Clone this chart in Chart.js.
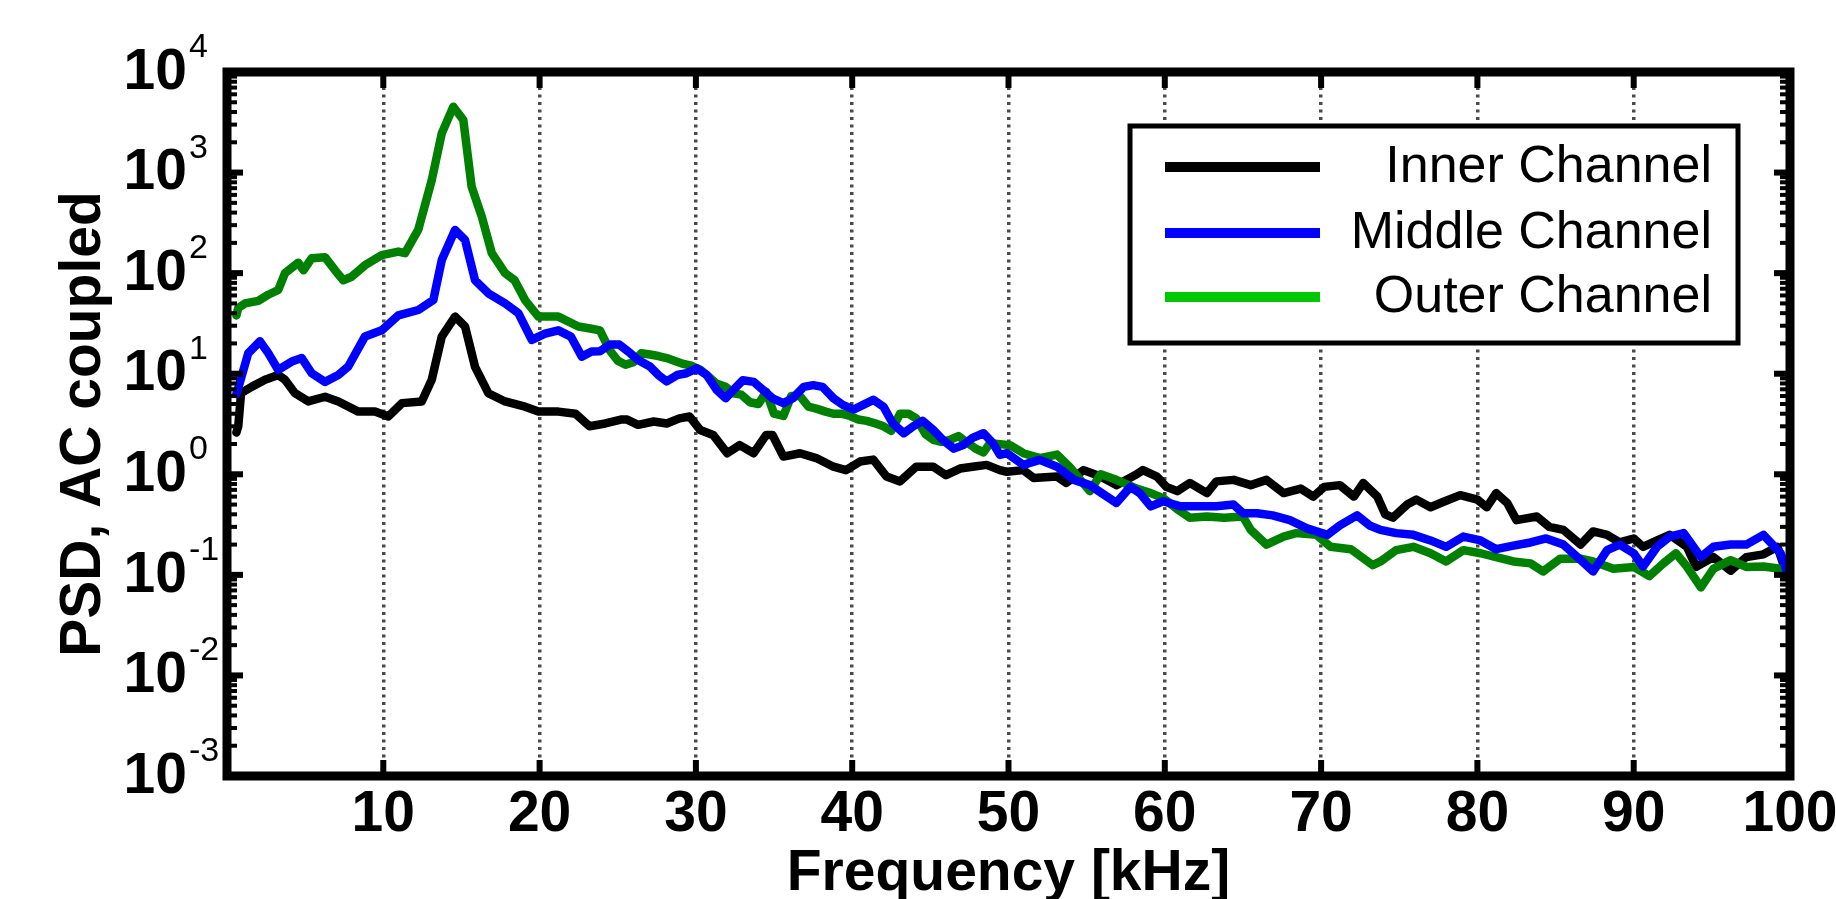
<!DOCTYPE html>
<html><head><meta charset="utf-8">
<script src="https://cdn.jsdelivr.net/npm/chart.js@4.4.1/dist/chart.umd.min.js"></script>
<style>html,body{margin:0;padding:0;background:#fff;overflow:hidden}canvas{display:block}</style>
</head><body>
<canvas id="c" width="1836" height="899"></canvas>
<script>
// ---------------- data ----------------
const seriesNames = ['Inner Channel', 'Middle Channel', 'Outer Channel'];

const innerFreq = [0.6,0.72,0.9,1.57,2.43,3.28,3.71,4.35,5.2,6.27,7.12,8.4,9.47,10.32,11.2,12.46,13.1,13.74,14.59,15.23,15.87,16.72,17.79,19.07,19.92,21.2,22.3,23.2,24.2,25.2,25.6,26.3,27.3,28.13,28.95,29.6,30.27,31.1,32.0,32.8,33.7,34.5,34.9,35.6,36.66,37.7,38.8,39.6,40.5,41.35,42.2,43.06,44.1,45.19,46.0,46.9,47.7,48.6,49.45,49.9,50.95,51.6,53.1,53.7,54.8,55.9,56.9,58.2,58.6,59.5,60.1,60.8,61.6,62.7,63.3,64.4,65.5,66.5,67.6,68.7,69.5,70.2,71.2,72.1,72.7,73.6,74.1,74.6,75.5,76.1,77.0,77.8,78.9,80.0,80.6,81.2,81.9,82.5,83.8,84.6,85.5,86.6,87.4,88.3,89.1,90.0,90.6,91.5,92.3,93.4,94.0,95.1,96.2,97.2,98.3,99.2,99.8];
const innerPSD  = [2.6,3.0,6.4,7.4,8.7,9.7,8.7,6.4,5.3,5.9,5.3,4.2,4.2,3.75,5.1,5.3,8.7,23.4,37,29.5,11.7,6.4,5.3,4.7,4.2,4.2,4.0,3.0,3.2,3.5,3.5,3.1,3.35,3.2,3.6,3.75,2.76,2.46,1.62,1.95,1.62,2.46,2.46,1.5,1.62,1.45,1.19,1.1,1.34,1.4,0.95,0.85,1.19,1.19,0.98,1.14,1.19,1.24,1.1,1.06,1.1,0.92,0.95,0.82,1.1,0.95,0.78,1.0,1.1,0.95,0.75,0.68,0.82,0.65,0.85,0.88,0.78,0.88,0.65,0.72,0.6,0.75,0.78,0.6,0.82,0.6,0.4,0.37,0.5,0.56,0.47,0.53,0.62,0.56,0.47,0.65,0.52,0.35,0.38,0.30,0.28,0.2,0.27,0.25,0.21,0.23,0.19,0.22,0.25,0.19,0.12,0.15,0.11,0.15,0.16,0.19,0.1];

const middleFreq = [0.6,0.72,1.36,2.11,2.64,3.28,4.14,4.78,5.42,6.27,7.12,7.76,8.83,9.9,10.96,12.24,13.2,13.74,14.59,15.23,15.87,16.72,17.79,18.64,19.5,20.35,21.2,22.0,22.7,23.33,23.86,24.5,25.1,25.8,26.3,27.06,27.6,28.13,28.8,29.4,30.05,30.7,31.33,31.9,32.4,33.0,33.7,34.3,34.9,35.6,36.2,36.9,37.5,38.1,38.8,39.4,40.1,40.7,41.35,42.0,42.6,43.3,43.9,44.5,45.19,45.8,46.5,47.1,47.7,48.4,49.0,49.45,49.9,50.95,52.0,53.1,54.2,55.2,56.3,56.9,57.8,58.4,59.1,59.9,61.0,62.0,63.3,64.4,65.0,65.9,66.9,68.0,69.1,70.4,71.2,72.3,73.1,73.8,74.8,75.9,77.0,78.0,79.1,80.2,81.2,82.3,83.4,84.4,85.5,86.6,87.4,88.3,89.1,90.0,90.6,91.5,92.3,93.2,94.3,95.1,96.2,97.2,98.3,99.4,99.9];
const middlePSD  = [6.3,7.2,16,21,16,10.9,13.2,14.3,10.1,8.3,9.7,11.8,23.5,27,38,43,54,135,269,214,85,63,50,40,21.7,25,27,23.4,14.8,16.6,16.7,19.5,19.5,16,13.7,11.8,9.7,8.4,9.7,10.1,11.3,9.7,6.9,5.7,6.9,8.6,8.3,6.9,5.7,5.1,5.7,7.4,7.7,7.4,5.7,4.9,4.4,4.9,5.5,4.7,3.2,2.56,3.0,3.4,2.76,2.2,1.8,1.95,2.3,2.56,2.04,1.56,1.62,1.24,1.39,1.19,0.88,0.78,0.6,0.52,0.75,0.65,0.48,0.54,0.48,0.48,0.48,0.5,0.41,0.41,0.39,0.35,0.29,0.25,0.31,0.39,0.31,0.28,0.26,0.25,0.22,0.19,0.24,0.22,0.18,0.195,0.21,0.23,0.2,0.141,0.108,0.176,0.2,0.164,0.121,0.19,0.24,0.26,0.15,0.19,0.2,0.2,0.25,0.164,0.097];

const outerFreq = [0.6,0.72,1.15,2.0,2.64,3.28,3.71,4.56,4.9,5.42,6.27,6.91,7.44,7.97,8.83,9.9,10.96,11.39,12.24,13.1,13.74,14.48,15.12,15.65,16.3,16.94,17.79,18.4,19.07,19.92,21.2,22.48,23.33,23.86,24.5,25.0,25.5,26.0,26.5,27.06,27.6,28.13,28.7,29.2,29.7,30.27,30.8,31.3,31.9,32.4,32.9,33.46,34.0,34.5,35.0,35.6,36.1,36.66,37.2,37.7,38.3,38.8,39.3,39.86,40.4,40.93,41.5,42.0,42.5,43.06,43.6,44.1,44.7,45.19,45.7,46.26,46.8,47.3,47.9,48.4,48.82,50.1,50.95,52.0,53.1,53.9,55.2,55.9,56.9,58.2,59.1,59.9,60.8,61.6,62.7,63.8,65.0,65.5,66.5,67.6,68.4,69.7,70.6,71.9,73.3,73.8,74.8,75.9,77.0,78.0,79.1,80.2,81.2,82.3,83.4,84.2,85.3,86.6,87.4,88.7,90.0,91.0,91.9,92.7,93.4,94.3,95.1,96.2,97.2,98.3,99.4,99.9];
const outerPSD  = [38,45,50,53,61,68,100,127,107,141,144,107,85,92,120,151,164,158,271,843,2450,4520,3330,725,365,158,100,85,54,37,37,29.5,28,27,17,13.5,12.3,13,16,15.5,15,14.3,13.3,12.5,12,11,9.4,8,7.4,6.4,6.2,5.2,5.0,6.6,4.0,3.8,6.0,6.0,4.7,4.5,4.2,4.0,4.0,3.8,3.5,3.4,3.2,3.0,2.7,4.0,4.0,3.6,2.5,2.2,2.1,2.2,2.4,2.1,1.8,1.65,2.04,1.95,1.62,1.45,1.57,1.19,0.68,1.0,0.88,0.72,0.65,0.58,0.45,0.37,0.38,0.37,0.38,0.28,0.2,0.24,0.26,0.25,0.19,0.18,0.125,0.136,0.176,0.19,0.164,0.136,0.176,0.164,0.15,0.136,0.13,0.108,0.145,0.145,0.136,0.115,0.12,0.097,0.13,0.164,0.121,0.075,0.115,0.14,0.12,0.121,0.115,0.11];

const xTickValues = [10,20,30,40,50,60,70,80,90,100];
const yExponents = [-3,-2,-1,0,1,2,3,4];
const xTitle = 'Frequency [kHz]';
const yTitle = 'PSD, AC coupled';

// ---------------- styling ----------------
const lineColors = ['#000000', '#0000ff', '#008000'];
const legendColors = ['#000000', '#0000ff', '#00c800'];
const FONT = '"Liberation Sans", Arial, Helvetica, sans-serif';

function pts(f, v) { return f.map((x, i) => ({x: x, y: v[i]})); }

const frameAndLegend = {
  id: 'frameAndLegend',
  afterDraw(chart) {
    const {ctx, chartArea: a, scales: {x, y}} = chart;
    ctx.save();
    ctx.fillStyle = '#000';
    // x ticks (bottom and top, inward)
    xTickValues.forEach(v => {
      if (v >= 100) return;
      const px = x.getPixelForValue(v);
      ctx.fillRect(px - 3, a.bottom - 16, 6, 16);
      ctx.fillRect(px - 3, a.top, 6, 16);
    });
    // y ticks (left and right, inward), major + minor
    yExponents.forEach(e => {
      const py = y.getPixelForValue(Math.pow(10, e));
      ctx.fillRect(a.left, py - 3, 16, 6);
      ctx.fillRect(a.right - 16, py - 3, 16, 6);
      if (e < 4) {
        for (let k = 2; k <= 9; k++) {
          const pm = y.getPixelForValue(k * Math.pow(10, e));
          ctx.fillRect(a.left, pm - 2, 10, 4);
          ctx.fillRect(a.right - 10, pm - 2, 10, 4);
        }
      }
    });
    // frame
    ctx.lineWidth = 9;
    ctx.strokeStyle = '#000';
    ctx.strokeRect(a.left, a.top, a.right - a.left, a.bottom - a.top);
    // y tick labels 10^n
    yExponents.forEach(e => {
      const py = y.getPixelForValue(Math.pow(10, e));
      ctx.font = 'bold 57px ' + FONT;
      ctx.textAlign = 'right';
      ctx.textBaseline = 'middle';
      ctx.fillText('10', 187, py + 1);
      ctx.font = '34px ' + FONT;
      ctx.textAlign = 'left';
      ctx.textBaseline = 'alphabetic';
      ctx.fillText(String(e), 189, py - 15);
    });
    // legend
    const bx = 1130, by = 126, bw = 608, bh = 217;
    ctx.fillStyle = '#fff';
    ctx.fillRect(bx, by, bw, bh);
    ctx.lineWidth = 5;
    ctx.strokeStyle = '#000';
    ctx.strokeRect(bx, by, bw, bh);
    const rows = [167, 233, 297];
    ctx.font = '52px ' + FONT;
    ctx.textAlign = 'right';
    ctx.textBaseline = 'middle';
    seriesNames.forEach((n, i) => {
      ctx.fillStyle = legendColors[i];
      ctx.fillRect(1165, rows[i] - 5, 155, 10);
      ctx.fillStyle = '#000';
      ctx.fillText(n, 1712, rows[i] + 1);
    });
    ctx.restore();
  }
};

new Chart(document.getElementById('c'), {
  type: 'line',
  data: {
    datasets: [
      {label: seriesNames[0], data: pts(innerFreq, innerPSD), borderColor: lineColors[0], order: 3},
      {label: seriesNames[1], data: pts(middleFreq, middlePSD), borderColor: lineColors[1], order: 1},
      {label: seriesNames[2], data: pts(outerFreq, outerPSD), borderColor: lineColors[2], order: 2}
    ]
  },
  options: {
    responsive: false,
    animation: false,
    devicePixelRatio: 1,
    parsing: true,
    elements: {
      point: {radius: 0},
      line: {borderWidth: 8.5, tension: 0, borderJoinStyle: 'round', borderCapStyle: 'round', fill: false}
    },
    layout: {padding: {top: 72, right: 46, left: 0, bottom: 0}},
    plugins: {legend: {display: false}, tooltip: {enabled: false}},
    scales: {
      x: {
        type: 'linear', min: 0, max: 100, position: 'bottom',
        border: {display: false, dash: [3, 4.5]},
        grid: {
          drawTicks: false, lineWidth: 3.5,
          color: c => (c.tick && c.tick.value > 0 && c.tick.value < 100) ? '#4a4a4a' : 'rgba(0,0,0,0)'
        },
        ticks: {
          stepSize: 10, padding: 5, maxRotation: 0, autoSkip: false, color: '#000',
          font: {family: FONT, size: 57, weight: 'bold'},
          callback: v => (xTickValues.indexOf(v) >= 0 ? String(v) : '')
        },
        title: {display: true, text: xTitle, color: '#000',
          font: {family: FONT, size: 57, weight: 'bold', lineHeight: 0.7},
          padding: {top: 0, bottom: 5}},
        afterFit: s => { s.height = 123; s.paddingLeft = 0; s.paddingRight = 0; }
      },
      y: {
        type: 'logarithmic', min: 1e-3, max: 1e4, position: 'left',
        border: {display: false},
        grid: {display: false},
        ticks: {display: false},
        title: {display: true, text: yTitle, color: '#000',
          font: {family: FONT, size: 57, weight: 'bold', lineHeight: 1},
          padding: {top: 56, bottom: 0}},
        afterFit: s => { s.width = 227; s.paddingTop = 0; s.paddingBottom = 0; }
      }
    }
  },
  plugins: [frameAndLegend]
});
</script>
</body></html>
